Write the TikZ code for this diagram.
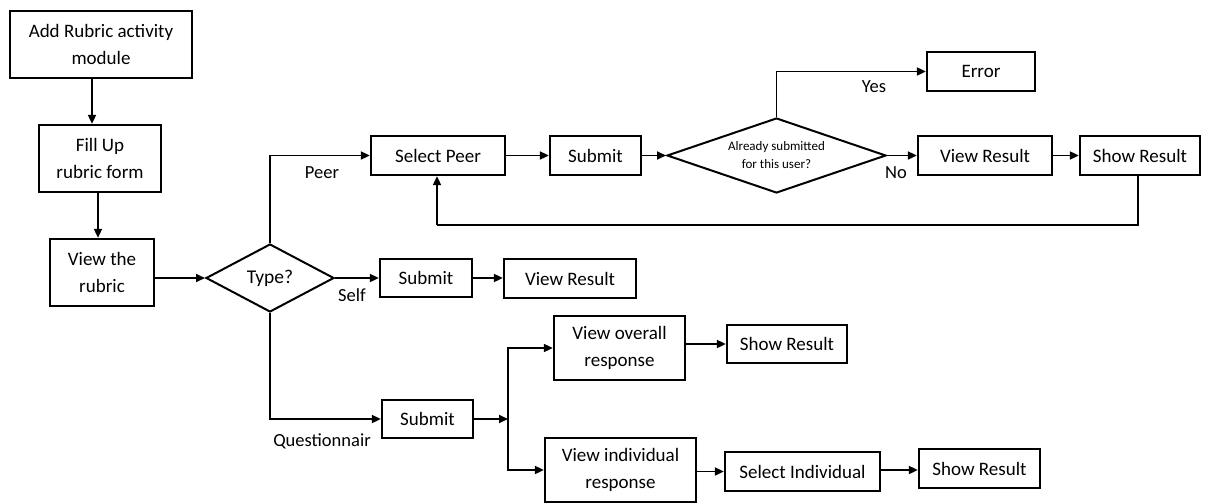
\documentclass[tikz,border=0pt]{standalone}
\usepackage{fontspec}
\setmainfont{Carlito}
\usetikzlibrary{shapes.geometric,arrows.meta}
\begin{document}
\begin{tikzpicture}[x=1pt,y=-1pt,
  box/.style={draw,line width=2.3pt,inner sep=0pt,align=center,font=\fontsize{19}{27}\selectfont},
  dec/.style={draw,diamond,line width=2pt,inner sep=0pt,align=center},
  arr/.style={line width=1.8pt,-{Triangle[length=9pt,width=8pt]}},
  ln/.style={line width=1.8pt},
  lbl/.style={font=\fontsize{18.5}{20}\selectfont,inner sep=0pt}]
\useasboundingbox (0,0) rectangle (1206,503);

% main column
\node[box,minimum width=182pt,minimum height=67pt] (add) at (101,44.5) {Add Rubric activity\\module};
\node[box,minimum width=122pt,minimum height=67pt] (fill) at (100,158.5) {Fill Up\\rubric form};
\node[box,minimum width=104pt,minimum height=67pt] (view) at (102,272.5) {View the\\rubric};
\node[dec,aspect=1.9,minimum width=128pt,minimum height=68pt,font=\fontsize{19.5}{20}\selectfont] (type) at (270,278) {Type?};

% peer branch
\node[box,minimum width=134pt,minimum height=39pt] (selpeer) at (438,155.5) {Select Peer};
\node[box,minimum width=91pt,minimum height=39pt] (subpeer) at (595.5,155.5) {Submit};
\node[dec,aspect=2.9,minimum width=219pt,minimum height=75pt,font=\fontsize{13}{18}\selectfont] (already) at (776.5,155.5) {Already submitted\\for this user?};
\node[box,minimum width=108pt,minimum height=39pt] (error) at (981,71.5) {Error};
\node[box,minimum width=134pt,minimum height=39pt] (viewpeer) at (985,155.5) {View Result};
\node[box,minimum width=120pt,minimum height=39pt] (showpeer) at (1140,155.5) {Show Result};

% self branch
\node[box,minimum width=92pt,minimum height=38pt] (subself) at (426,278) {Submit};
\node[box,minimum width=132pt,minimum height=39pt] (viewself) at (570,278.5) {View Result};

% questionnaire branch
\node[box,minimum width=91pt,minimum height=38pt] (subq) at (427.5,419) {Submit};
\node[box,minimum width=131pt,minimum height=64pt] (overall) at (619.5,348) {View overall\\response};
\node[box,minimum width=120pt,minimum height=38pt] (showall) at (787,344) {Show Result};
\node[box,minimum width=151pt,minimum height=64pt] (indiv) at (620.5,470) {View individual\\response};
\node[box,minimum width=155pt,minimum height=39pt] (selind) at (802.5,471.5) {Select Individual};
\node[box,minimum width=121pt,minimum height=39pt] (showind) at (979.5,468.5) {Show Result};

% branch labels
\node[lbl] (lpeer) at (322,173) {Peer};
\node[lbl] (lself) at (352,295) {Self};
\node[lbl] (lq) at (322,441) {Questionnair};
\node[lbl] (lyes) at (874,87) {Yes};
\node[lbl] (lno) at (896,173) {No};

% helper points
\coordinate (j) at (508,419);
\coordinate (loopr) at (1138,225);
\coordinate (loopl) at (437,225);
\coordinate (ind) at (0,470);

% connectors
\draw[arr] (add.south -| 92,0) -- (fill.north -| 92,0);
\draw[arr] (fill.south -| 98,0) -- (view.north -| 98,0);
\draw[arr] (view.east |- type) -- (type.west);
\draw[arr] (type.north) |- (selpeer.west);
\draw[arr] (type.east) -- (subself.west);
\draw[arr] (type.south) |- (subq.west);
\draw[arr] (selpeer.east) -- (subpeer.west);
\draw[arr] (subpeer.east) -- (already.west);
\draw[arr] (already.north) |- (error.west);
\draw[arr] (already.east) -- (viewpeer.west);
\draw[arr] (viewpeer.east) -- (showpeer.west);
\draw[ln] (showpeer.south -| loopr) -- (loopr) -- (loopl);
\draw[arr] (loopl) -- (selpeer.south -| loopl);
\draw[arr] (subself.east) -- (viewself.west |- subself);
\draw[arr] (subq.east) -- (j);
\draw[arr] (j) |- (overall.west);
\draw[arr] (j) |- (indiv.west);
\draw[arr] (overall.east |- showall) -- (showall.west);
\draw[arr] (indiv.east |- selind) -- (selind.west);
\draw[arr] (selind.east |- ind) -- (showind.west |- ind);
\end{tikzpicture}
\end{document}
